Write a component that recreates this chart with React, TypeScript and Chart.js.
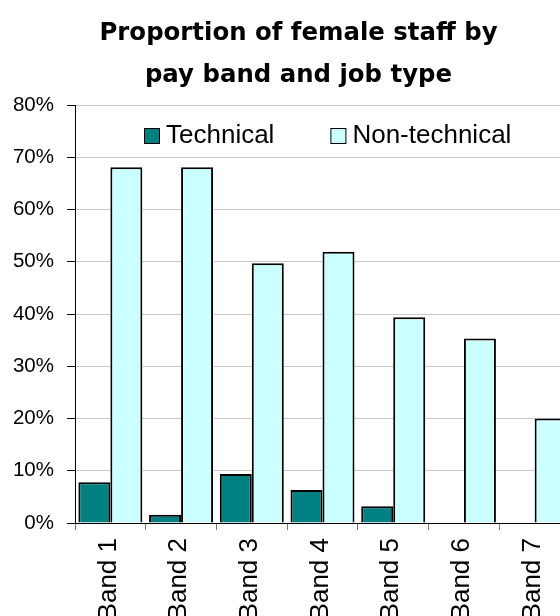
import React, { useEffect, useRef } from 'react';
import { Chart, registerables } from 'chart.js';

Chart.register(...registerables);

const TITLE_LINES = ['Proportion of female staff by', 'pay band and job type'];
const CATEGORIES = ['Band 1', 'Band 2', 'Band 3', 'Band 4', 'Band 5', 'Band 6', 'Band 7'];
const SERIES_NAMES = ['Technical', 'Non-technical'];
const TECHNICAL = [7.8, 1.6, 9.4, 6.3, 3.2, 0, 0];
const NON_TECHNICAL = [68.1, 68.1, 49.7, 51.9, 39.4, 35.3, 20.0];
const SERIES_COLORS = ['#008080', '#CCFFFF'];
const Y_MIN = 0;
const Y_MAX = 80;
const Y_STEP = 10;

const SANS = '"Liberation Sans", Arial, sans-serif';

const insideLegend = {
  id: 'insideLegend',
  afterDraw(chart: any) {
    const { ctx, chartArea } = chart;
    ctx.save();
    ctx.font = `26px ${SANS}`;
    ctx.textBaseline = 'alphabetic';
    let x = chartArea.left + 69;
    const boxTop = chartArea.top + 23;
    const base = chartArea.top + 38;
    const box = 16;
    const gap = 6;
    chart.data.datasets.forEach((ds: any) => {
      ctx.fillStyle = ds.backgroundColor;
      ctx.fillRect(x, boxTop, box, box);
      ctx.strokeStyle = '#000';
      ctx.lineWidth = 1;
      ctx.strokeRect(x + 0.5, boxTop + 0.5, box - 1, box - 1);
      ctx.fillStyle = '#000';
      ctx.fillText(ds.label, x + box + gap, base);
      x += box + gap + ctx.measureText(ds.label).width + 56;
    });
    ctx.restore();
  },
};

export default function App() {
  const ref = useRef<HTMLCanvasElement | null>(null);

  useEffect(() => {
    if (!ref.current) return;
    const chart = new Chart(ref.current, {
      type: 'bar',
      data: {
        labels: CATEGORIES,
        datasets: [
          {
            label: SERIES_NAMES[0],
            data: TECHNICAL,
            backgroundColor: SERIES_COLORS[0],
            borderColor: '#000',
            borderWidth: 2,
            categoryPercentage: 0.905,
            barPercentage: 1.0,
          },
          {
            label: SERIES_NAMES[1],
            data: NON_TECHNICAL,
            backgroundColor: SERIES_COLORS[1],
            borderColor: '#000',
            borderWidth: 2,
            categoryPercentage: 0.905,
            barPercentage: 1.0,
          },
        ],
      },
      options: {
        responsive: false,
        maintainAspectRatio: false,
        devicePixelRatio: 1,
        animation: false,
        layout: { padding: { left: 0, right: 3, top: 0, bottom: 0 } },
        plugins: {
          legend: { display: false },
          tooltip: { enabled: false },
          title: {
            display: true,
            text: TITLE_LINES,
            color: '#000',
            font: { family: '"DejaVu Sans", sans-serif', size: 24.4, weight: 'bold', lineHeight: '42px' },
            padding: { top: 13, bottom: 8 },
          },
        },
        scales: {
          x: {
            offset: true,
            grid: {
              display: true,
              drawOnChartArea: false,
              drawTicks: true,
              tickLength: 7,
              tickColor: '#777',
              offset: true,
            },
            border: { display: true, color: '#000', width: 1 },
            ticks: {
              minRotation: 90,
              maxRotation: 90,
              autoSkip: false,
              padding: 8,
              labelOffset: -2,
              color: '#000',
              font: { family: SANS, size: 26 },
            },
            afterFit(s: any) {
              s.height = 117;
            },
          },
          y: {
            min: Y_MIN,
            max: Y_MAX,
            ticks: {
              stepSize: Y_STEP,
              padding: 13,
              color: '#000',
              font: { family: SANS, size: 20.5 },
              callback: (v: any) => `${v}%`,
            },
            grid: { color: '#c8c8c8', lineWidth: 1, tickLength: 8, tickColor: '#000' },
            border: { display: true, color: '#000', width: 1 },
            afterFit(s: any) {
              s.width = 75;
            },
          },
          y2: {
            position: 'right',
            display: true,
            grid: { display: false },
            ticks: { display: false },
            border: { display: false },
            afterFit(s: any) {
              s.width = 27;
            },
          },
        },
      },
      plugins: [insideLegend],
    } as any);
    return () => chart.destroy();
  }, []);

  return (
    <div
      style={{
        position: 'fixed',
        left: 0,
        top: 0,
        width: 560,
        height: 616,
        overflow: 'hidden',
        background: '#fff',
      }}
    >
      <canvas
        ref={ref}
        width={600}
        height={640}
        style={{ position: 'absolute', left: 0, top: 0, width: 600, height: 640 }}
      />
    </div>
  );
}
